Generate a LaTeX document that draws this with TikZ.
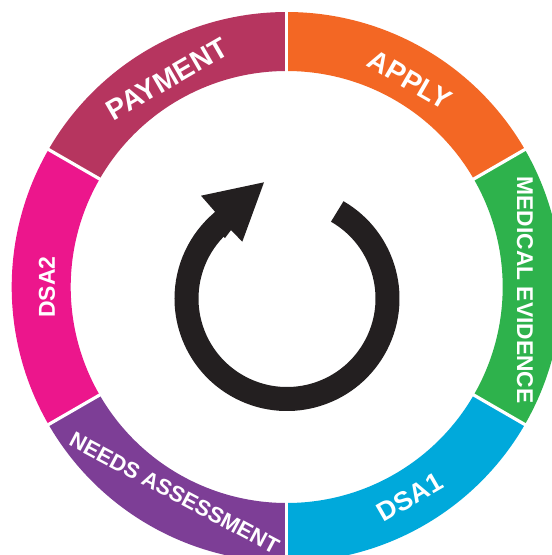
\documentclass[tikz,border=0pt]{standalone}
\usepackage{fontspec}
\setmainfont{Liberation Sans}
\definecolor{cOrange}{HTML}{F36724}
\definecolor{cGreen}{HTML}{2EB24C}
\definecolor{cBlue}{HTML}{00A9DB}
\definecolor{cPurple}{HTML}{7D3E96}
\definecolor{cMagenta}{HTML}{EC168C}
\definecolor{cRose}{HTML}{B6355F}
\definecolor{cInk}{HTML}{231F20}
\tikzset{
  seglabel/.style={text=white,font=\bfseries\fontsize{#1}{#1}\selectfont,inner sep=0pt},
  gapline/.style={draw=white,line width=3.2pt},
}
\newcommand{\ringseg}[3]{\fill[#1] (#2:275pt) arc[start angle=#2,end angle=#3,radius=275pt] -- (#3:216pt) arc[start angle=#3,end angle=#2,radius=216pt] -- cycle;}
\begin{document}
\begin{tikzpicture}[x=1pt,y=1pt]
\useasboundingbox (0,-555) rectangle (552,0);
\clip (0,-555) rectangle (552,0);
\fill[white] (0,-555) rectangle (552,0);
\begin{scope}[shift={(286.7,-287)}]
  \ringseg{cOrange}{30}{90}
  \ringseg{cGreen}{-30}{30}
  \ringseg{cBlue}{-90}{-30}
  \ringseg{cPurple}{-150}{-90}
  \ringseg{cMagenta}{150}{210}
  \ringseg{cRose}{90}{150}
  \foreach \a in {30,90,150,210,270,330}
    \draw[gapline] (\a:212pt) -- (\a:279pt);
\end{scope}
\node[seglabel=28.5,rotate=30] (payment) at (167,-79) {PAYMENT};
\node[seglabel=28,rotate=-30] (apply) at (410,-80) {APPLY};
\node[seglabel=22.8,rotate=-90] (medical) at (525,-290) {MEDICAL EVIDENCE};
\node[seglabel=26.5,rotate=30] (dsa1) at (410,-497) {DSA1};
\node[seglabel=22,rotate=-28] (needs) at (174.5,-493) {NEEDS ASSESSMENT};
\node[seglabel=23,rotate=90] (dsa2) at (47,-287) {DSA2};
\begin{scope}[shift={(287,-298.5)}]
  \draw[cInk,line width=24pt] (60:100.5pt) arc[start angle=60,end angle=-230,radius=100.5pt];
\end{scope}
\fill[cInk] (264,-182.3) -- (201,-195.7) -- (215,-211.7) -- (208,-222) -- (225,-238) -- (231,-230) -- (242.3,-241.7) -- cycle;
\end{tikzpicture}
\end{document}
